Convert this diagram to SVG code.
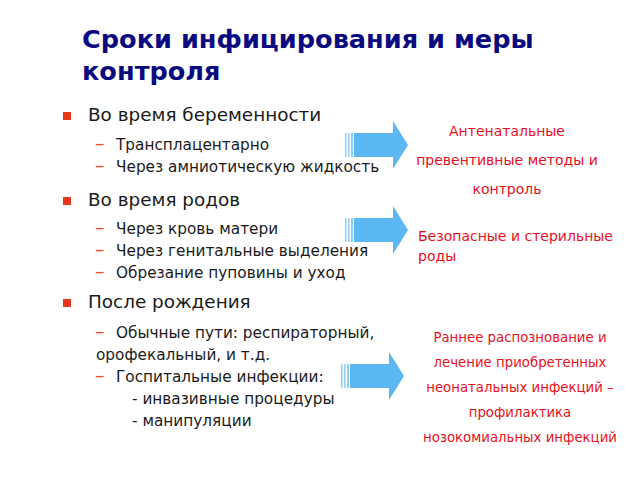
<svg xmlns="http://www.w3.org/2000/svg" width="640" height="480" viewBox="0 0 640 480">
<style>
.title{font-family:"DejaVu Sans",Verdana,sans-serif;font-weight:bold;font-size:25.6px;fill:#0a0a80}
.l1{font-family:"DejaVu Sans",Verdana,sans-serif;font-size:18.4px;fill:#1a1a1a}
.l2{font-family:"DejaVu Sans",Verdana,sans-serif;font-size:15.3px;fill:#1a1a1a}
.dash{font-family:"DejaVu Sans",Verdana,sans-serif;font-size:19px;fill:#e8502a}
.red{font-family:"DejaVu Sans",Verdana,sans-serif;font-size:14px;fill:#e8101c}
.red3{font-family:"DejaVu Sans",Verdana,sans-serif;font-size:13.3px;fill:#e8101c}
.bul{fill:#e83a1a}
.arr{fill:#5cb8f2}
.str{fill:#8fd0f6}
</style>
<defs>
<g id="arrow">
<rect class="str" x="0" y="12" width="1.5" height="24"/>
<rect class="str" x="3" y="12" width="1.5" height="24"/>
<rect class="str" x="6" y="12" width="2" height="24"/>
<path class="arr" d="M9,12 H48 V0 L63,24 L48,48 V36 H9 Z"/>
</g>
</defs>
<g id="title">
<text class="title" x="82" y="48">Сроки инфицирования и меры</text>
<text class="title" x="82" y="80">контроля</text>
</g>
<g id="section1">
<rect class="bul" x="63" y="112" width="8" height="8"/>
<text class="l1" x="88" y="121">Во время беременности</text>
<text class="dash" x="95" y="150">–</text>
<text class="l2" x="116" y="150">Трансплацентарно</text>
<text class="dash" x="95" y="172">–</text>
<text class="l2" x="116" y="172">Через амниотическую жидкость</text>
</g>
<g id="section2">
<rect class="bul" x="63" y="197" width="8" height="8"/>
<text class="l1" x="88" y="206">Во время родов</text>
<text class="dash" x="95" y="234">–</text>
<text class="l2" x="116" y="234">Через кровь матери</text>
<text class="dash" x="95" y="256">–</text>
<text class="l2" x="116" y="256">Через генитальные выделения</text>
<text class="dash" x="95" y="278">–</text>
<text class="l2" x="116" y="278">Обрезание пуповины и уход</text>
</g>
<g id="section3">
<rect class="bul" x="63" y="299" width="8" height="8"/>
<text class="l1" x="88" y="308">После рождения</text>
<text class="dash" x="95" y="338">–</text>
<text class="l2" x="116" y="338">Обычные пути: респираторный,</text>
<text class="l2" x="96" y="360">орофекальный, и т.д.</text>
<text class="dash" x="95" y="382">–</text>
<text class="l2" x="116" y="382">Госпитальные инфекции:</text>
<text class="l2" x="132" y="404">- инвазивные процедуры</text>
<text class="l2" x="132" y="426">- манипуляции</text>
</g>
<g id="connectors">
<use href="#arrow" x="345" y="121"/>
<use href="#arrow" x="345" y="206"/>
<use href="#arrow" x="341" y="352"/>
</g>
<g id="result1">
<text class="red" x="507" y="136" text-anchor="middle">Антенатальные</text>
<text class="red" x="507" y="165" text-anchor="middle">превентивные методы и</text>
<text class="red" x="507" y="194" text-anchor="middle">контроль</text>
</g>
<g id="result2">
<text class="red" x="418" y="241">Безопасные и стерильные</text>
<text class="red" x="418" y="261">роды</text>
</g>
<g id="result3">
<text class="red3" x="520" y="342" text-anchor="middle">Раннее распознование и</text>
<text class="red3" x="520" y="367" text-anchor="middle">лечение приобретенных</text>
<text class="red3" x="520" y="392" text-anchor="middle">неонатальных инфекций –</text>
<text class="red3" x="520" y="417" text-anchor="middle">профилактика</text>
<text class="red3" x="520" y="442" text-anchor="middle">нозокомиальных  инфекций</text>
</g>
</svg>
